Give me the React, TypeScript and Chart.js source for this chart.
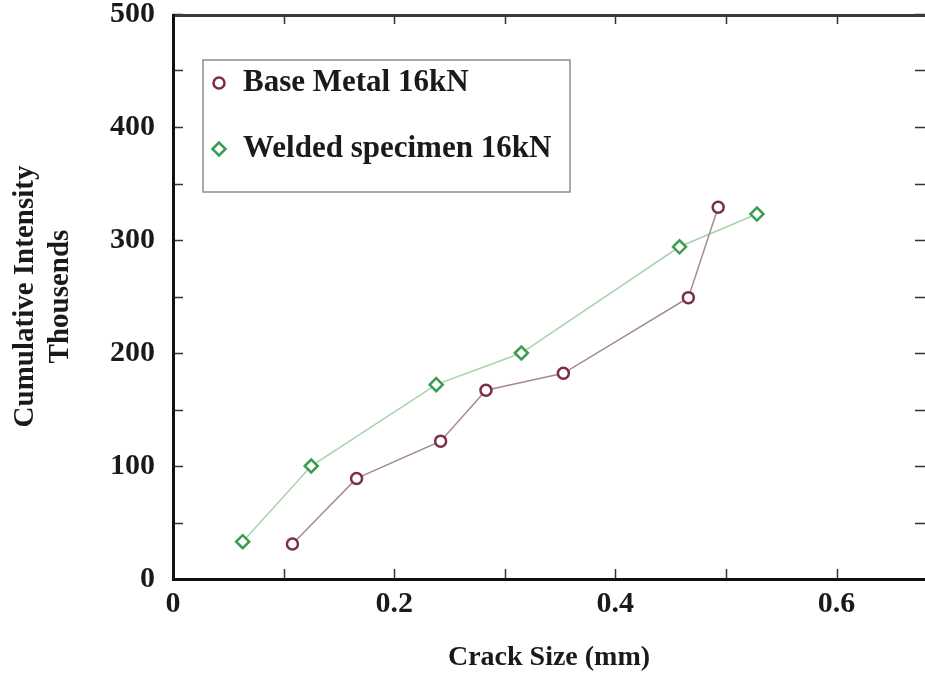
import { useEffect, useRef } from 'react';
import { Chart, registerables } from 'chart.js';
import { drawPoint } from 'chart.js/helpers';

Chart.register(...registerables);

// ---- data ----
const baseLabel = 'Base Metal 16kN';
const baseCrack = [0.108, 0.166, 0.242, 0.283, 0.353, 0.466, 0.493];
const baseIntensity = [31, 89, 122, 167, 182, 249, 329];

const weldLabel = 'Welded specimen 16kN';
const weldCrack = [0.063, 0.125, 0.238, 0.315, 0.458, 0.528];
const weldIntensity = [33, 100, 172, 200, 294, 323];

const xTitle = 'Crack Size (mm)';
const yTitle = ['Cumulative Intensity', 'Thousends'];

const xMin = 0;
const xMax = 0.68;
const xStep = 0.1;
const yMin = 0;
const yMax = 500;
const yStep = 50;

const FONT = '"Liberation Serif", "Times New Roman", serif';

const framePlugin = {
  id: 'frameTicks',
  afterDraw(chart: any) {
    const { ctx, chartArea: a, scales } = chart;
    ctx.save();
    ctx.strokeStyle = '#333';
    ctx.lineWidth = 1.5;
    const tl = 10;
    scales.x.ticks.forEach((t: any) => {
      const px = Math.round(scales.x.getPixelForValue(t.value)) + 0.5;
      ctx.beginPath();
      ctx.moveTo(px, a.bottom);
      ctx.lineTo(px, a.bottom - tl);
      ctx.moveTo(px, a.top);
      ctx.lineTo(px, a.top + tl);
      ctx.stroke();
    });
    scales.y.ticks.forEach((t: any) => {
      const py = Math.round(scales.y.getPixelForValue(t.value)) + 0.5;
      ctx.beginPath();
      ctx.moveTo(a.left, py);
      ctx.lineTo(a.left + tl, py);
      ctx.moveTo(a.right, py);
      ctx.lineTo(a.right - tl, py);
      ctx.stroke();
    });
    ctx.lineWidth = 3;
    ctx.strokeStyle = '#3a3a3a';
    ctx.beginPath();
    ctx.moveTo(a.left, a.top + 1.5);
    ctx.lineTo(a.right, a.top + 1.5);
    ctx.stroke();
    ctx.strokeStyle = '#111';
    ctx.beginPath();
    ctx.moveTo(a.left + 0.5, a.top);
    ctx.lineTo(a.left + 0.5, a.bottom + 0.5);
    ctx.lineTo(a.right, a.bottom + 0.5);
    ctx.stroke();
    ctx.restore();
  },
};

const legendPlugin = {
  id: 'insideLegend',
  afterDraw(chart: any) {
    const { ctx, chartArea: a } = chart;
    const x0 = a.left + 30;
    const y0 = a.top + 46;
    const w = 367;
    const h = 132;
    ctx.save();
    ctx.fillStyle = '#ffffff';
    ctx.fillRect(x0, y0, w, h);
    ctx.strokeStyle = '#8c8c8c';
    ctx.lineWidth = 1.5;
    ctx.strokeRect(x0, y0, w, h);
    chart.data.datasets.forEach((ds: any, i: number) => {
      const cy = y0 + 23 + i * 66;
      ctx.strokeStyle = ds.pointBorderColor;
      ctx.fillStyle = '#ffffff';
      ctx.lineWidth = ds.pointBorderWidth;
      drawPoint(ctx, { pointStyle: ds.pointStyle, radius: ds.pointRadius, borderWidth: ds.pointBorderWidth, rotation: 0 } as any, x0 + 16, cy);
      ctx.fillStyle = '#1a1a1a';
      ctx.font = `bold 31px ${FONT}`;
      ctx.textBaseline = 'middle';
      ctx.textAlign = 'left';
      ctx.fillText(ds.label, x0 + 40, cy);
    });
    ctx.restore();
  },
};

export default function App() {
  const ref = useRef<HTMLCanvasElement | null>(null);

  useEffect(() => {
    document.body.style.margin = '0';
    const canvas = ref.current;
    if (!canvas) return;
    const chart = new Chart(canvas, {
      type: 'line',
      data: {
        datasets: [
          {
            label: baseLabel,
            data: baseCrack.map((x, i) => ({ x, y: baseIntensity[i] })),
            borderColor: '#a58a95',
            borderWidth: 1.5,
            pointStyle: 'circle',
            pointRadius: 5.5,
            pointBorderWidth: 2.5,
            pointBorderColor: '#7a2d4c',
            pointBackgroundColor: '#ffffff',
            tension: 0,
          },
          {
            label: weldLabel,
            data: weldCrack.map((x, i) => ({ x, y: weldIntensity[i] })),
            borderColor: '#a9d2aa',
            borderWidth: 1.5,
            pointStyle: 'rectRot',
            pointRadius: 6.5,
            pointBorderWidth: 2.5,
            pointBorderColor: '#3c9c52',
            pointBackgroundColor: '#ffffff',
            tension: 0,
          },
        ],
      },
      options: {
        animation: false,
        responsive: true,
        maintainAspectRatio: false,
        layout: { autoPadding: false, padding: { top: 14, right: 0, left: 0, bottom: 0 } },
        plugins: {
          legend: { display: false },
          tooltip: { enabled: false },
        },
        scales: {
          x: {
            type: 'linear',
            min: xMin,
            max: xMax,
            grid: { display: false, drawTicks: false },
            border: { display: false },
            ticks: {
              stepSize: xStep,
              includeBounds: false,
              padding: 7,
              color: '#1a1a1a',
              font: { family: FONT, size: 30, weight: 'bold' },
              maxRotation: 0,
              autoSkip: false,
              callback: (v: any) => {
                const n = Math.round(Number(v) * 10);
                return n % 2 === 0 ? String(n / 10) : '';
              },
            },
            title: {
              display: true,
              text: xTitle,
              color: '#1a1a1a',
              font: { family: FONT, size: 28, weight: 'bold', lineHeight: 1.1 },
              padding: { top: 0, bottom: 0 },
            },
            afterFit: (s: any) => {
              s.height = 94;
              s.paddingLeft = 0;
              s.paddingRight = 0;
            },
          },
          y: {
            type: 'linear',
            min: yMin,
            max: yMax,
            grid: { display: false, drawTicks: false },
            border: { display: false },
            ticks: {
              stepSize: yStep,
              padding: 18,
              color: '#1a1a1a',
              font: { family: FONT, size: 30, weight: 'bold' },
              autoSkip: false,
              callback: (v: any) => (Number(v) % 100 === 0 ? String(v) : ''),
            },
            title: {
              display: true,
              text: yTitle,
              color: '#1a1a1a',
              font: { family: FONT, size: 29, weight: 'bold', lineHeight: 1.2 },
              padding: { top: 8, bottom: 0 },
            },
            afterFit: (s: any) => {
              s.width = 173;
              s.paddingTop = 0;
              s.paddingBottom = 0;
            },
          },
        },
      },
      plugins: [framePlugin, legendPlugin],
    });
    return () => chart.destroy();
  }, []);

  return (
    <div style={{ position: 'relative', width: 925, height: 673 }}>
      <canvas ref={ref} />
    </div>
  );
}
